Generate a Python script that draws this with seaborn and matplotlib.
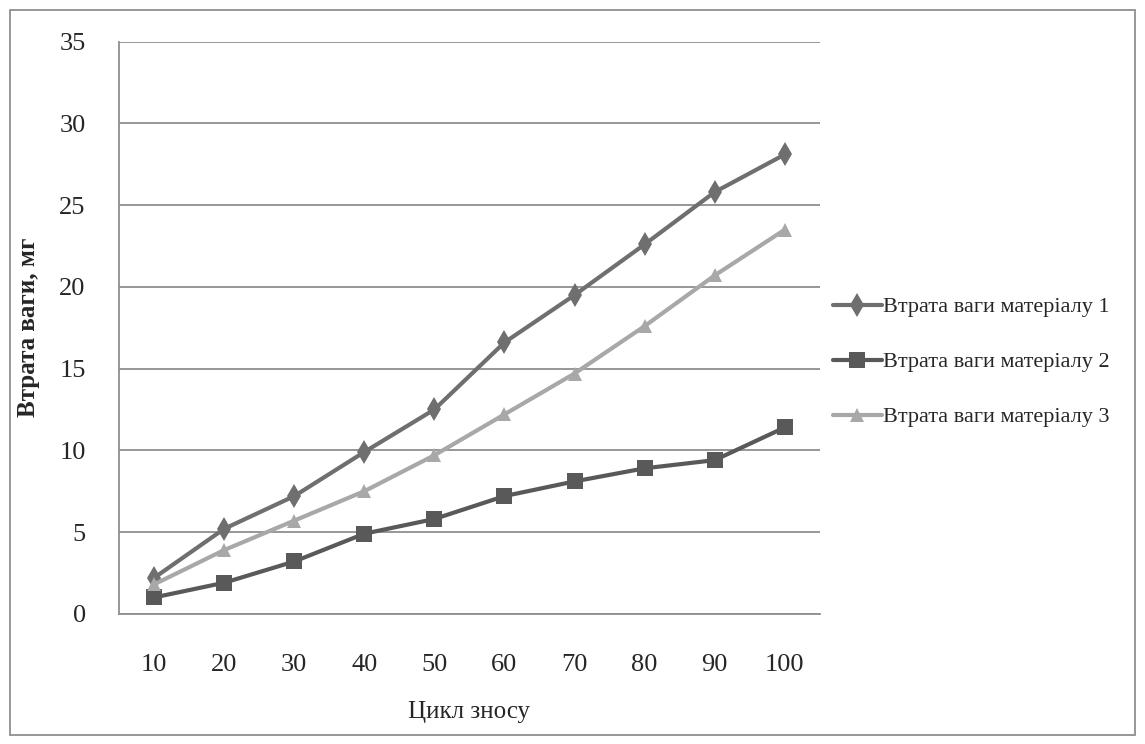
import matplotlib
matplotlib.use("Agg")
from matplotlib import pyplot as plt
from matplotlib.patches import Rectangle
import pandas as pd
import seaborn as sns

# wear cycles and weight loss (mg) for three materials
cycles = [10, 20, 30, 40, 50, 60, 70, 80, 90, 100]
loss_1 = [2.2, 5.2, 7.2, 9.9, 12.5, 16.6, 19.5, 22.6, 25.8, 28.1]
loss_2 = [1.0, 1.9, 3.2, 4.9, 5.8, 7.2, 8.1, 8.9, 9.4, 11.4]
loss_3 = [1.8, 3.9, 5.7, 7.5, 9.7, 12.2, 14.7, 17.6, 20.7, 23.5]
names = ["Втрата ваги матеріалу 1", "Втрата ваги матеріалу 2", "Втрата ваги матеріалу 3"]

df = pd.DataFrame({
    "cycle": cycles * 3,
    "loss": loss_1 + loss_2 + loss_3,
    "series": [names[0]] * 10 + [names[1]] * 10 + [names[2]] * 10,
})

sns.set_style("white")
plt.rcParams["font.family"] = ["Liberation Serif", "DejaVu Serif"]

fig = plt.figure(figsize=(11.45, 7.44), dpi=100)
ax = fig.add_axes([0.104, 0.175, 0.612, 0.769])

colors = {names[0]: "#6f6f6f", names[1]: "#595959", names[2]: "#a8a8a8"}
markers = {names[0]: "d", names[1]: "s", names[2]: "^"}
sizes = {names[0]: 12, names[1]: 11, names[2]: 10}

for n in names:
    sub = df[df.series == n]
    sns.lineplot(data=sub, x="cycle", y="loss", ax=ax, color=colors[n],
                 marker=markers[n], markersize=sizes[n], markeredgewidth=0,
                 linewidth=3, label=n)

ax.set_xlim(5, 105)
ax.set_ylim(0, 35)
ax.set_xticks(cycles)
ax.set_yticks(range(0, 36, 5))
ax.yaxis.grid(True, color="#8f8f8f", linewidth=1.3)
ax.set_axisbelow(True)
for s in ["top", "right"]:
    ax.spines[s].set_visible(False)
for s in ["left", "bottom"]:
    ax.spines[s].set_color("#8f8f8f")
    ax.spines[s].set_linewidth(1.3)
ax.tick_params(length=0, labelsize=19)
ax.tick_params(axis="x", pad=29)
ax.tick_params(axis="y", pad=24)

ax.set_xlabel("Цикл зносу", fontsize=18, labelpad=18)
ax.set_ylabel("Втрата ваги, мг", fontsize=18, fontweight="bold", labelpad=14)

leg = ax.legend(loc="center left", bbox_to_anchor=(0.99, 0.44), frameon=False,
                fontsize=16, handlelength=2.2, handletextpad=0.05, labelspacing=1.55)

fig.patches.append(Rectangle((0.009, 0.012), 0.982, 0.975, transform=fig.transFigure,
                             fill=False, edgecolor="#8f8f8f", linewidth=1.3))

plt.savefig("out.png", dpi=100)
